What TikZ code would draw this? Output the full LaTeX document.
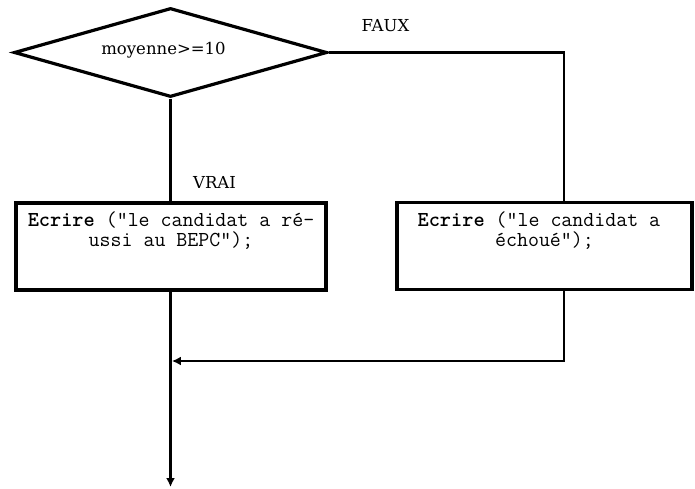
\documentclass[tikz,border=0pt]{standalone}
\usepackage{fontspec}
\setmainfont{DejaVu Serif}
\usetikzlibrary{shapes.geometric,arrows.meta}
\begin{document}
\begin{tikzpicture}[x=1pt,y=-1pt,
  decision/.style={diamond, draw, line width=3.2pt, minimum width=313pt, minimum height=89pt, inner sep=0pt},
  procbox/.style={draw, line width=3.8pt, inner sep=0pt, minimum height=87pt},
  boxtext/.style={anchor=north, inner sep=0pt, align=center, font=\ttfamily\fontsize{21.3}{20}\selectfont},
  lbl/.style={inner sep=0pt, font=\fontsize{16.5}{18}\selectfont},
  conn/.style={draw, line width=2.8pt},
  tip/.style={-{Latex[length=9pt,width=9pt]}}
]
\useasboundingbox (0,0) rectangle (695,488);
% decision
\node[decision] (dia) at (170.5,52.5) {};
\node[lbl, anchor=base] (diatext) at (163.5,54) {moyenne>=10};
% boxes
\node[procbox, minimum width=310pt] (lbox) at (171,246.5) {};
\node[procbox, minimum width=295pt] (rbox) at (544.5,246) {};
\node[boxtext] (ltext) at (171,211.5) {\rule{0pt}{15pt}\textbf{Ecrire} ("le candidat a ré-\\ussi au BEPC");};
\node[boxtext] (rtext) at (544.5,211.5) {\rule{0pt}{15pt}\textbf{Ecrire} ("le candidat a\hspace*{.525em}\\échoué");};
% labels
\node[lbl, anchor=base] (faux) at (385.5,31) {FAUX};
\node[lbl, anchor=base] (vrai) at (214.5,188) {VRAI};
% helper coordinates
\coordinate (rx) at (564,0);
\coordinate (bottom) at (0,487);
\coordinate (c2) at (564,361);
% connectors
\draw[conn] (dia.east) -- (dia.east -| rx) -- (rx |- rbox.north);
\draw[conn] (dia.south) -- (dia.south |- lbox.north);
\draw[conn, tip] (lbox.south -| dia.south) -- (dia.south |- bottom);
\draw[conn, tip, shorten >=1.4pt] (rbox.south -| c2) -- (c2) -- (c2 -| dia.south);
\end{tikzpicture}
\end{document}
